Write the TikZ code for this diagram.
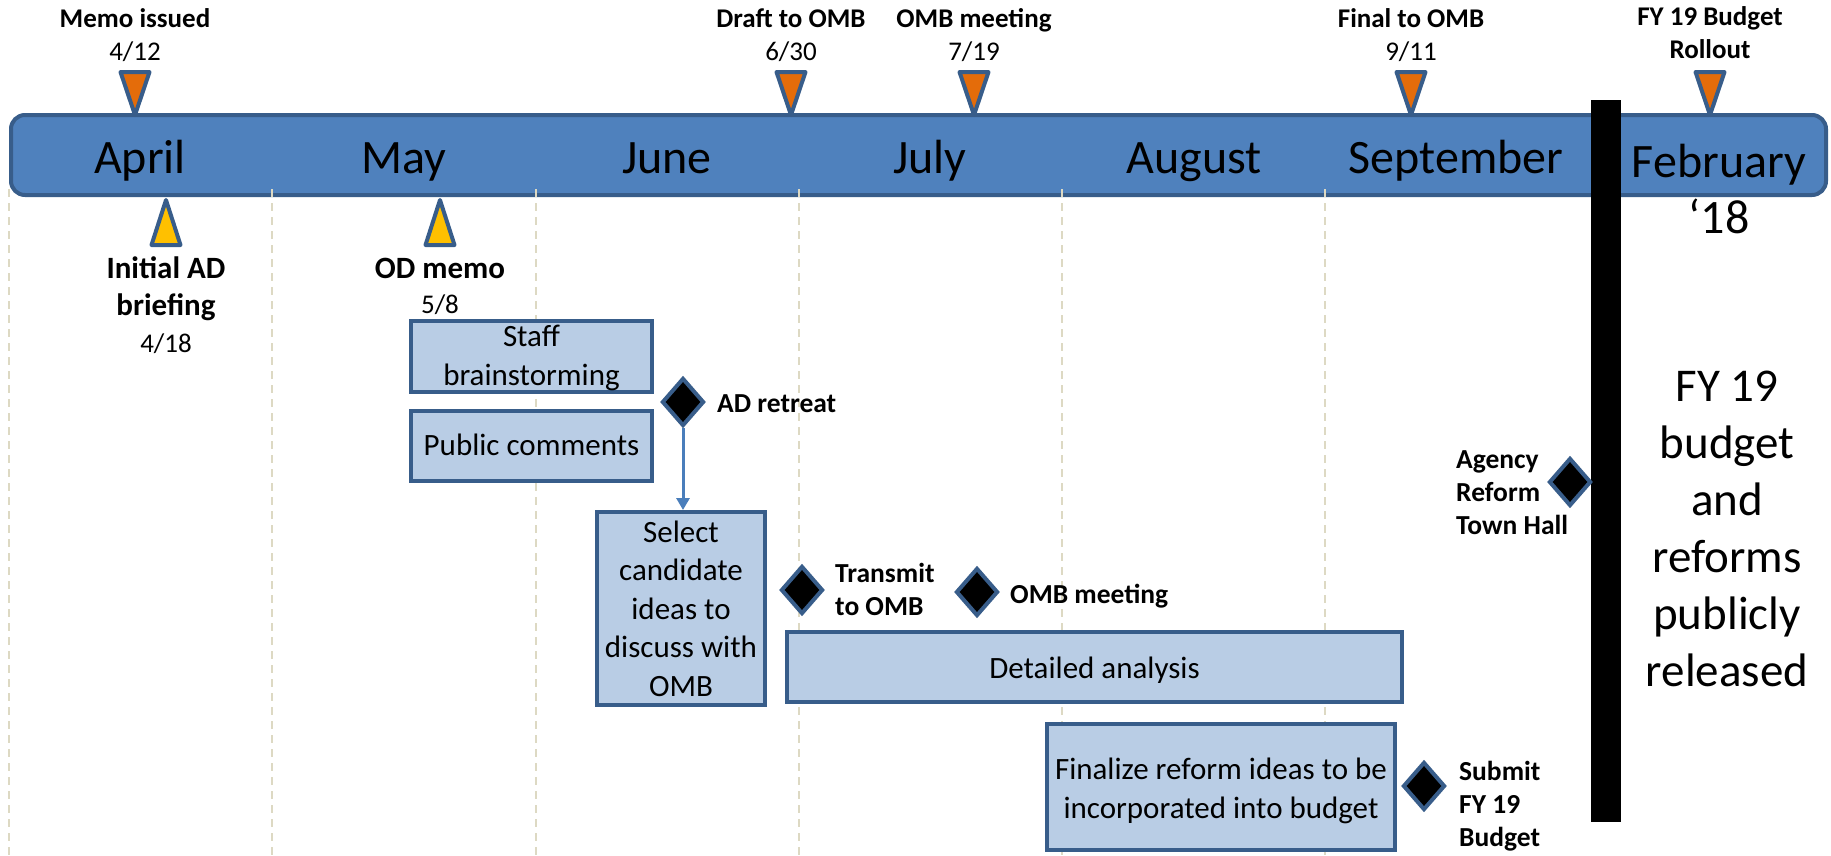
\documentclass[tikz,border=0pt]{standalone}
\usepackage{fontspec}
\setmainfont{Carlito}
\usetikzlibrary{shapes.geometric,arrows.meta}
\definecolor{barfill}{HTML}{4F81BD}
\definecolor{bordc}{HTML}{385D8A}
\definecolor{boxfill}{HTML}{B9CDE5}
\definecolor{orangec}{HTML}{E46C0A}
\definecolor{yellowc}{HTML}{FFC000}
\definecolor{gridc}{HTML}{DDD9C3}
\definecolor{arrowc}{HTML}{4A7EBB}
\begin{document}
\begin{tikzpicture}[x=1pt,y=-1pt,
  timebar/.style={draw=bordc, fill=barfill, line width=4pt, rounded corners=14pt, inner sep=0pt},
  box/.style={draw=bordc, fill=boxfill, line width=4pt, inner sep=0pt},
  boxtext/.style={font=\fontsize{31}{38.5}\selectfont, align=center, inner sep=0pt, anchor=base},
  ms/.style={draw=bordc, fill=black, line width=4pt, diamond, inner sep=0pt, minimum width=42pt, minimum height=48pt},
  mslabel/.style={font=\bfseries\fontsize{27.5}{33}\selectfont, align=left, inner sep=0pt, anchor=base west},
  toplabel/.style={font=\bfseries\fontsize{27}{33}\selectfont, align=center, inner sep=0pt, anchor=base},
  botlabel/.style={font=\bfseries\fontsize{31}{37}\selectfont, align=center, inner sep=0pt, anchor=base},
  datelabel/.style={font=\fontsize{27}{33}\selectfont, inner sep=0pt, anchor=base},
  month/.style={font=\fontsize{48}{57}\selectfont, inner sep=0pt, anchor=base},
  tri/.style={draw=bordc, line width=4pt, line join=round},
  gridline/.style={draw=gridc, line width=2pt, dash pattern=on 8pt off 6pt},
]
\useasboundingbox (0,0) rectangle (1831,855);

% timeline bar
\node[timebar, minimum width=1815pt, minimum height=80pt] (timeline) at (918.5,155) {};

% month dividers
\foreach \gx in {9,272,536,799,1062,1325}
  \draw[gridline] (\gx,189) -- (\gx,855);

% month labels
\node[month] (apr) at (140,173) {April};
\node[month] (may) at (404,173) {May};
\node[month] (jun) at (667,173) {June};
\node[month] (jul) at (930,173) {July};
\node[month] (aug) at (1194,173) {August};
\node[month] (sep) at (1456,173) {September};
\node[month] (feb) at (1719,177) {February};
\node[month] (yr) at (1719,233) {‘18};

% top milestones (orange)
\foreach \tx in {135,791,974,1411,1710}
  \draw[tri, fill=orangec] (\tx-14.5,72) -- (\tx+14.5,72) -- (\tx,115) -- cycle;
\node[toplabel] (t1) at (135,27) {Memo issued};
\node[datelabel] (d1) at (135,60) {4/12};
\node[toplabel] (t2) at (791,27) {Draft to OMB};
\node[datelabel] (d2) at (791,60) {6/30};
\node[toplabel] (t3) at (974,27) {OMB meeting};
\node[datelabel] (d3) at (974,60) {7/19};
\node[toplabel] (t4) at (1411,27) {Final to OMB};
\node[datelabel] (d4) at (1411,60) {9/11};
\node[toplabel] (t5) at (1710,58) {FY 19 Budget\\Rollout};

% bottom milestones (yellow)
\foreach \bx in {166,440}
  \draw[tri, fill=yellowc] (\bx,200) -- (\bx+14.5,245) -- (\bx-14.5,245) -- cycle;
\node[botlabel] (b1) at (166,315) {Initial AD\\briefing};
\node[datelabel] (bd1) at (166,352) {4/18};
\node[botlabel] (b2) at (440,278) {OD memo};
\node[datelabel] (bd2) at (440,313) {5/8};

% activity boxes
\node[box, minimum width=241pt, minimum height=71pt] (staff) at (531.5,356.5) {};
\node[boxtext] (stafft) at (531.5,385) {Staff\\brainstorming};
\node[box, minimum width=241pt, minimum height=70pt] (pub) at (531.5,446) {};
\node[boxtext] (pubt) at (531.5,455) {Public comments};
\node[box, minimum width=168pt, minimum height=193pt] (sel) at (681,608.5) {};
\node[boxtext] (selt) at (681,696) {Select\\candidate\\ideas to\\discuss with\\OMB};
\node[box, minimum width=615pt, minimum height=70pt] (det) at (1094.5,667) {};
\node[boxtext] (dett) at (1094.5,678) {Detailed analysis};
\node[box, minimum width=348pt, minimum height=126pt] (fin) at (1221,787) {};
\node[boxtext] (fint) at (1221,818) {Finalize reform ideas to be\\incorporated into budget};

% black divider
\fill[black] (1591,100) rectangle (1621,822);

% diamond milestones
\node[ms] (adr) at (683,402) {};
\node[mslabel] (adrl) at (717,412) {AD retreat};
\node[ms] (trn) at (802,590) {};
\node[mslabel] (trnl) at (835,615) {Transmit\\to OMB};
\node[ms] (omb) at (977,592) {};
\node[mslabel] (ombl) at (1010,603) {OMB meeting};
\node[ms] (sub) at (1424,786) {};
\node[mslabel] (subl) at (1459,846) {Submit\\FY 19\\Budget};
\node[ms] (agr) at (1570,482) {};
\node[mslabel] (agrl) at (1456,534) {Agency\\Reform\\Town Hall};

% arrow
\draw[arrowc, line width=3pt, -{Triangle[width=13pt,length=12pt]}] (adr.south) -- (adr.south |- sel.north);

% right text
\node[font=\fontsize{47}{57}\selectfont, align=center, inner sep=0pt, anchor=base] (rel) at (1727,686) {FY 19\\budget\\and\\reforms\\publicly\\released};
\end{tikzpicture}
\end{document}
